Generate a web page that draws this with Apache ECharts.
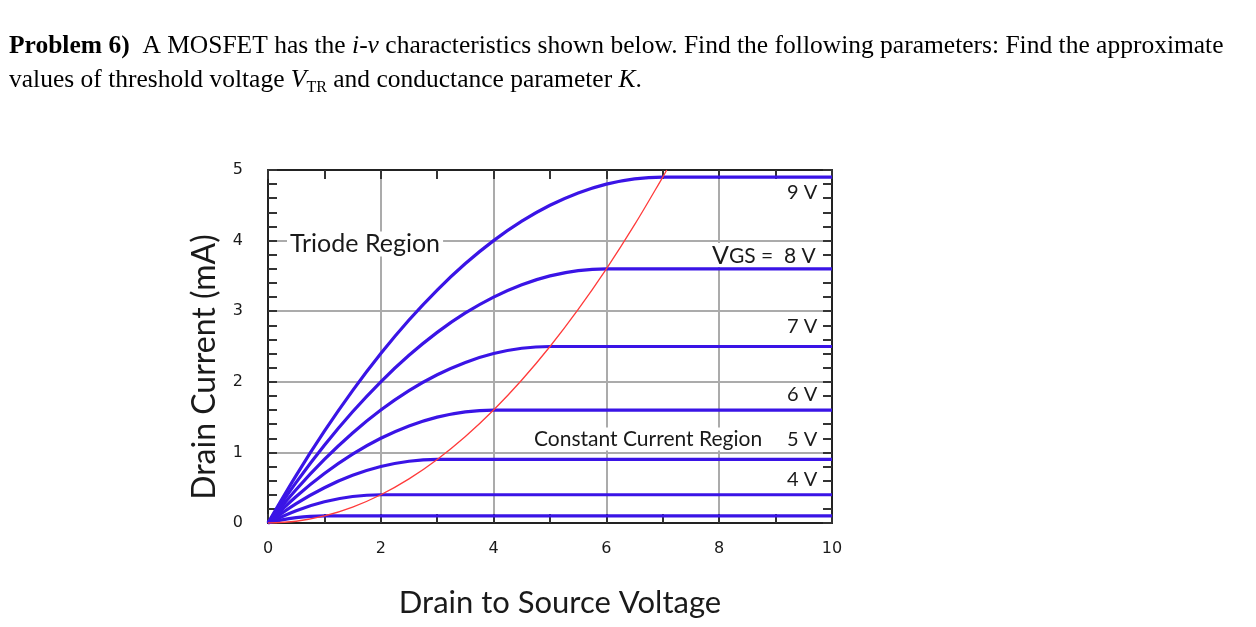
<!DOCTYPE html>
<html><head><meta charset="utf-8">
<script src="https://cdn.jsdelivr.net/npm/echarts@6/dist/echarts.min.js"></script>
<style>html,body{margin:0;padding:0;background:#fff}#c{width:1256px;height:627px}</style>
</head><body><div id="c"></div>
<script>
// Drain current curves (x = V_DS in V, y = I_D in mA)
const id9V = [[0,0],[0.5,0.675],[1,1.3],[1.5,1.875],[2,2.4],[2.5,2.875],[3,3.3],[3.5,3.675],[4,4.0],[4.5,4.275],[5,4.5],[5.5,4.675],[6,4.8],[6.5,4.875],[7,4.9],[7.5,4.9],[10,4.9]];
const id8V = [[0,0],[0.5,0.575],[1,1.1],[1.5,1.575],[2,2.0],[2.5,2.375],[3,2.7],[3.5,2.975],[4,3.2],[4.5,3.375],[5,3.5],[5.5,3.575],[6,3.6],[6.5,3.6],[10,3.6]];
const id7V = [[0,0],[0.5,0.475],[1,0.9],[1.5,1.275],[2,1.6],[2.5,1.875],[3,2.1],[3.5,2.275],[4,2.4],[4.5,2.475],[5,2.5],[5.5,2.5],[10,2.5]];
const id6V = [[0,0],[0.5,0.375],[1,0.7],[1.5,0.975],[2,1.2],[2.5,1.375],[3,1.5],[3.5,1.575],[4,1.6],[4.5,1.6],[10,1.6]];
const id5V = [[0,0],[0.5,0.275],[1,0.5],[1.5,0.675],[2,0.8],[2.5,0.875],[3,0.9],[3.5,0.9],[10,0.9]];
const id4V = [[0,0],[0.5,0.175],[1,0.3],[1.5,0.375],[2,0.4],[2.5,0.4],[10,0.4]];
const id3V = [[0,0],[0.25,0.044],[0.5,0.075],[0.75,0.094],[1,0.1],[1.5,0.1],[10,0.1]];
const satBoundary = [[0,0],[0.5,0.025],[1,0.1],[1.5,0.225],[2,0.4],[2.5,0.625],[3,0.9],[3.5,1.225],[4,1.6],[4.5,2.025],[5,2.5],[5.5,3.025],[6,3.6],[6.5,4.225],[7,4.9],[7.07,5.0]];
const curves = [id9V, id8V, id7V, id6V, id5V, id4V, id3V];
const xTicks = [0, 2, 4, 6, 8, 10];
const yTicks = [0, 1, 2, 3, 4, 5];

const chart = echarts.init(document.getElementById('c'));
const L = 268, R = 832, T = 170, B = 523;
const BLUE = '#3a14e6', RED = '#ff3b3b', GRID = '#ababab', INK = '#1a1a1a';
const sans = 'Lato';

const xBase = {
  type: 'value', min: xTicks[0], max: xTicks[xTicks.length - 1], interval: 2,
  axisLine: { show: true, onZero: false, lineStyle: { color: '#222', width: 2 } },
  axisTick: { show: true, inside: true, length: 9, lineStyle: { color: '#333', width: 2 } },
  minorTick: { show: true, splitNumber: 2, length: 9, lineStyle: { color: '#333', width: 2 } }
};
const yBase = {
  type: 'value', min: yTicks[0], max: yTicks[yTicks.length - 1], interval: 1,
  axisLine: { show: true, onZero: false, lineStyle: { color: '#222', width: 2 } },
  axisTick: { show: true, inside: true, length: 9, lineStyle: { color: '#333', width: 2 } },
  minorTick: { show: true, splitNumber: 5, length: 9, lineStyle: { color: '#333', width: 2 } }
};

const series = curves.map(c => ({
  type: 'line', data: c, showSymbol: false, smooth: 0.35,
  lineStyle: { color: BLUE, width: 3.2 }, z: 3, silent: true
}));
series.push({
  type: 'line', data: satBoundary, showSymbol: false, smooth: 0.35,
  lineStyle: { color: RED, width: 1.3 }, z: 4, silent: true
});

function lbl(x, y, text, size) {
  return {
    type: 'text', x: x, y: y, z: 100,
    style: { text: text, font: size + 'px ' + sans, fill: INK, align: 'left', verticalAlign: 'middle' }
  };
}
function boxed(x, y, text, size, pad) {
  return {
    type: 'text', x: x, y: y, z: 100,
    style: { text: text, font: size + 'px ' + sans, fill: INK, align: 'left', verticalAlign: 'middle',
      backgroundColor: '#fff', padding: pad || [1, 2, 1, 2] }
  };
}

const serif = '"Liberation Serif", "Times New Roman", serif';
const TS = 25.5;
chart.setOption({
  animation: false,
  backgroundColor: '#fff',
  grid: { left: L, right: 1256 - R, top: T, bottom: 627 - B },
  xAxis: [
    Object.assign({}, xBase, {
      position: 'bottom',
      axisLabel: { show: true, margin: 18, fontSize: 16, color: INK, fontFamily: 'DejaVu Sans' },
      splitLine: { show: true, lineStyle: { color: GRID, width: 2 } }
    }),
    Object.assign({}, xBase, { position: 'top', axisLabel: { show: false }, splitLine: { show: false } })
  ],
  yAxis: [
    Object.assign({}, yBase, {
      position: 'left',
      axisLabel: { show: true, margin: 25, fontSize: 16, color: INK, fontFamily: 'DejaVu Sans' },
      splitLine: { show: true, lineStyle: { color: GRID, width: 2 } }
    }),
    Object.assign({}, yBase, { position: 'right', axisLabel: { show: false }, splitLine: { show: false } })
  ],
  series: series,
  graphic: [
    {
      type: 'text', x: 9, y: 46, z: 100,
      style: {
        text: '{b|Problem 6)}{r|  A MOSFET has the }{i|i-v}{r| characteristics shown below. Find the following parameters: Find the approximate}',
        verticalAlign: 'middle', align: 'left',
        rich: {
          b: { font: 'bold ' + TS + 'px ' + serif, fill: '#000' },
          r: { font: TS + 'px ' + serif, fill: '#000' },
          i: { font: 'italic ' + TS + 'px ' + serif, fill: '#000' }
        }
      }
    },
    {
      type: 'text', x: 9, y: 80, z: 100,
      style: {
        text: '{r|values of threshold voltage }{i|V}{s|TR}{r| and conductance parameter }{i|K}{r|.}',
        verticalAlign: 'middle', align: 'left',
        rich: {
          r: { font: TS + 'px ' + serif, fill: '#000', lineHeight: 30 },
          i: { font: 'italic ' + TS + 'px ' + serif, fill: '#000', lineHeight: 30 },
          s: { font: '16px ' + serif, fill: '#000', lineHeight: 30, verticalAlign: 'bottom', padding: [0, 0, -1, 0] }
        }
      }
    },
    boxed(287, 244, 'Triode Region', 25, [0, 3, 0, 3]),
    {
      type: 'text', x: 710, y: 255, z: 100,
      style: {
        text: '{v|V}{g|GS =  8 V}', verticalAlign: 'middle', align: 'left',
        backgroundColor: '#fff', padding: [0, 2, 0, 2],
        rich: {
          v: { font: '25px ' + sans, fill: INK, verticalAlign: 'top', lineHeight: 24 },
          g: { font: '21px ' + sans, fill: INK, verticalAlign: 'bottom', lineHeight: 24, padding: [6, 0, 0, 0] }
        }
      }
    },
    boxed(531, 439, 'Constant Current Region', 21, [1, 3, 1, 3]),
    lbl(787, 193, '9 V', 20),
    lbl(787, 327, '7 V', 20),
    lbl(787, 395, '6 V', 20),
    lbl(787, 440, '5 V', 20),
    lbl(787, 480, '4 V', 20),
    {
      type: 'text', x: 205, y: 367, rotation: Math.PI / 2, z: 100,
      style: { text: 'Drain Current (mA)', font: '32px ' + sans, fill: INK, align: 'center', verticalAlign: 'middle' }
    },
    {
      type: 'text', x: 560, y: 603, z: 100,
      style: { text: 'Drain to Source Voltage', font: '31px ' + sans, fill: INK, align: 'center', verticalAlign: 'middle' }
    }
  ]
});
</script>
</body></html>
